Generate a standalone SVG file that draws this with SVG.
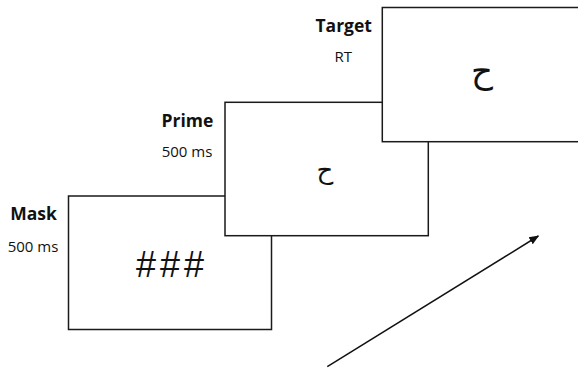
<svg xmlns="http://www.w3.org/2000/svg" width="578" height="369" viewBox="0 0 578 369">
<style>
.box{fill:#fff;stroke:#1a1a1a;stroke-width:1.5}
.lbl{font-family:"Open Sans","DejaVu Sans",sans-serif;font-weight:bold;font-size:17.5px;fill:#111;text-anchor:middle}
.dur{font-family:"Open Sans","DejaVu Sans",sans-serif;font-size:15px;fill:#111;text-anchor:middle}
.ar{font-family:"DejaVu Sans",sans-serif;fill:#111;text-anchor:middle}
.hash{font-family:"Liberation Sans",Arial,sans-serif;font-size:36px;fill:#111;text-anchor:middle;letter-spacing:4px}
</style>
<defs>
<marker id="ah" viewBox="0 0 10 10" refX="9" refY="5" markerWidth="10" markerHeight="10" markerUnits="userSpaceOnUse" orient="auto">
<path d="M0,1 L10,5 L0,9 Z" fill="#111"/>
</marker>
</defs>
<rect width="578" height="369" fill="#fff"/>
<g id="mask">
<rect class="box" x="68.5" y="196" width="203" height="133.5"/>
<text class="lbl" x="33.5" y="220">Mask</text>
<text class="dur" x="33" y="251.5">500 ms</text>
<text class="hash" x="172" y="277">###</text>
</g>
<g id="prime">
<rect class="box" x="225" y="102.3" width="203.3" height="133.4"/>
<text class="lbl" x="187.5" y="126.7">Prime</text>
<text class="dur" x="187" y="156.7">500 ms</text>
<text class="ar" x="325" y="179" font-size="26">ح</text>
</g>
<g id="target">
<rect class="box" x="382.3" y="7.5" width="203" height="134.2"/>
<text class="lbl" x="343.7" y="31.7">Target</text>
<text class="dur" x="343.3" y="61.7" font-size="14">RT</text>
<text class="ar" x="482" y="83" font-size="34">ح</text>
</g>
<g id="connectors">
<line x1="327.3" y1="366.7" x2="538.3" y2="236" stroke="#111" stroke-width="1.5" marker-end="url(#ah)"/>
</g>
</svg>
